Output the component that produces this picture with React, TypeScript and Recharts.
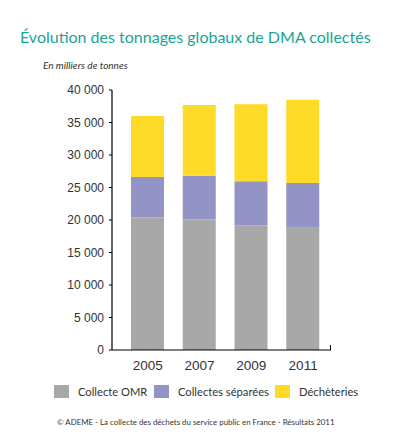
import React from 'react';
import { BarChart, Bar, XAxis, YAxis } from 'recharts';

// Valeurs (milliers de tonnes)
const years = ['2005', '2007', '2009', '2011'];
const collecteOMR = [20400, 20100, 19200, 18800];
const collectesSeparees = [6200, 6700, 6750, 6900];
const decheteries = [9400, 10900, 11850, 12800];
const yTicks = [0, 5000, 10000, 15000, 20000, 25000, 30000, 35000, 40000];

const series = [
  { key: 'omr', label: 'Collecte OMR', color: '#a8a8a8' },
  { key: 'sep', label: 'Collectes séparées', color: '#9393c5' },
  { key: 'dech', label: 'Déchèteries', color: '#fedb29' },
];

const data = years.map((year, i) => ({
  year,
  omr: collecteOMR[i],
  sep: collectesSeparees[i],
  dech: decheteries[i],
}));

const fmt = (v: number) => (v >= 1000 ? `${Math.floor(v / 1000)} ${String(v % 1000).padStart(3, '0')}` : `${v}`);

const humanist = 'Lato, "Noto Sans", sans-serif';

export default function App() {
  return (
    <div style={{ position: 'absolute', left: 0, top: 0, width: 395, height: 439, background: '#fff', overflow: 'hidden' }}>
      {/* Titre */}
      <div
        style={{
          position: 'absolute',
          left: 20,
          top: 27,
          fontFamily: humanist,
          fontSize: 16,
          lineHeight: '20px',
          color: '#19a595',
          whiteSpace: 'nowrap',
        }}
      >
        Évolution des tonnages globaux de DMA collectés
      </div>
      <div
        style={{
          position: 'absolute',
          left: 43,
          top: 59,
          fontFamily: humanist,
          fontSize: 10,
          lineHeight: '13px',
          fontStyle: 'italic',
          color: '#333',
        }}
      >
        En milliers de tonnes
      </div>

      <BarChart
        width={395}
        height={439}
        data={data}
        margin={{ top: 90, right: 64, bottom: 59, left: 0 }}
        style={{ position: 'absolute', left: 0, top: 0 }}
      >
        <YAxis
          width={112}
          domain={[0, 40000]}
          ticks={yTicks}
          interval={0}
          tickFormatter={fmt}
          axisLine={{ stroke: '#000', strokeWidth: 1.2 }}
          tickLine={{ stroke: '#000' }}
          tickSize={3}
          tickMargin={5}
          tick={{ fill: '#333', fontSize: 12, fontFamily: '"Liberation Sans", Arial, sans-serif' }}
        />
        <XAxis
          dataKey="year"
          height={30}
          padding={{ left: 10, right: 2 }}
          axisLine={{ stroke: '#000', strokeWidth: 1.2 }}
          tickLine={false}
          tickSize={0}
          tickMargin={10}
          tick={{ fill: '#333', fontSize: 13.5, fontFamily: '"Liberation Sans", Arial, sans-serif' }}
        />
        {series.map((s) => (
          <Bar key={s.key} dataKey={s.key} stackId="a" fill={s.color} barSize={33} isAnimationActive={false} />
        ))}
      </BarChart>

      {/* petit repère en bout d'axe */}
      <div style={{ position: 'absolute', left: 330, top: 345, width: 1.2, height: 5, background: '#000' }} />

      {/* Légende */}
      {series.map((s, i) => (
        <div
          key={s.key}
          style={{
            position: 'absolute',
            left: [54, 154, 275][i],
            top: 384,
            height: 14,
            display: 'flex',
            alignItems: 'center',
            fontFamily: humanist,
            fontSize: 11.2,
            color: '#333',
            whiteSpace: 'nowrap',
          }}
        >
          <span style={{ display: 'inline-block', width: 15, height: 13, background: s.color, marginRight: 9 }} />
          {s.label}
        </div>
      ))}

      {/* Source */}
      <div
        style={{
          position: 'absolute',
          left: 57,
          top: 417,
          fontFamily: humanist,
          fontSize: 7.9,
          lineHeight: '11px',
          color: '#333',
          whiteSpace: 'nowrap',
        }}
      >
        © ADEME - La collecte des déchets du service public en France - Résultats 2011
      </div>
    </div>
  );
}
